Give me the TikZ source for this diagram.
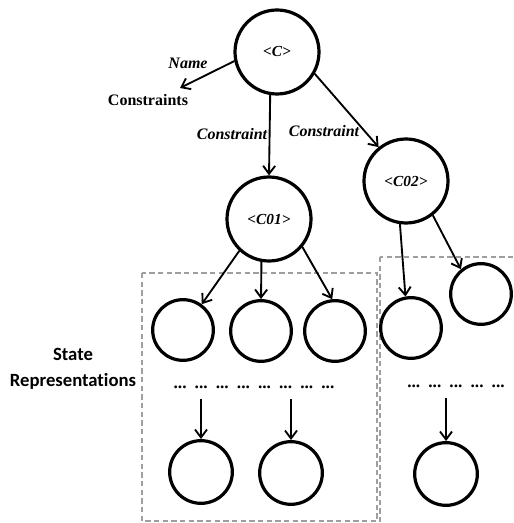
\documentclass[tikz,border=0pt]{standalone}
\usepackage{fontspec}
\setmainfont{Liberation Serif}
\newfontfamily\statefont[Ligatures=NoCommon]{Carlito}
\usepackage{tikz}
\usetikzlibrary{
    arrows.meta,
    positioning
}

\begin{document}
\begin{tikzpicture}[
    x=0.75pt,y=-0.75pt,
    bignode/.style={
        circle,
        draw,
        line width=2.4pt,
        minimum size=63pt,
        inner sep=0pt,
        font=\fontsize{11.5}{13}\selectfont\bfseries\itshape
    },
    statenode/.style={
        circle,
        draw,
        line width=2.4pt,
        minimum size=45.5pt,
        inner sep=0pt
    },
    link/.style={
        -{Straight Barb[length=6pt,width=9pt]},
        line width=1.4pt
    },
    edgelabel/.style={
        font=\fontsize{12}{14}\selectfont\bfseries\itshape
    },
    dotrow/.style={
        inner sep=0pt,
        font=\fontsize{13}{15}\selectfont\bfseries,
        execute at begin node={\spaceskip=5pt\relax}
    },
    groupbox/.style={
        draw=gray!75,
        dashed,
        dash pattern=on 4pt off 2.5pt,
        line width=1pt
    }
]
%
    \useasboundingbox (0,0) rectangle (513,523);
%
    \draw[groupbox] (142,273) rectangle (377,521);
    \draw[groupbox] (380,257) rectangle (540,545);
%
    \node[bignode] (c) at (277,52) {<C>};
    \node[bignode] (c01) at (269,219) {<C01>};
    \node[bignode] (c02) at (406,181) {<C02>};
%
    \node[statenode] (s1) at (183,330) {};
    \node[statenode] (s2) at (261,331) {};
    \node[statenode] (s3) at (335,331) {};
    \node[statenode] (r1) at (411,328) {};
    \node[statenode] (r2) at (481,294) {};
%
    \node[dotrow] (dotsl) at (254,387) {... ... ... ... ... ... ... ...};
    \node[dotrow] (dotsr) at (456,386) {... ... ... ... ...};
%
    \node[statenode,minimum size=47pt] (b1) at (201,472) {};
    \node[statenode,minimum size=47pt] (b2) at (291,473) {};
    \node[statenode,minimum size=47pt] (b3) at (446,474) {};
%
    \node[
        edgelabel
    ] (namelabel) at (188,63) {Name};
    \node[
        font=\fontsize{12}{14}\selectfont\bfseries
    ] (cons) at (148,100) {Constraints};
    \coordinate (nameend) at (180,88);
    \node[edgelabel] (lab1) at (232,134) {Constraint};
    \node[edgelabel] (lab2) at (324,131) {Constraint};
%
    \node[
        align=center,
        font=\statefont\fontsize{14}{20}\selectfont\bfseries
    ] (statelabel) at (73,369) {State\\Representations};
%
    \draw[link] (c.192) -- (nameend);
    \draw[link] (c.-99) -- (c01.north);
    \draw[link] (c.-30) -- (c02.129);
%
    \draw[link] (c01.-133) -- (s1.54);
    \draw[link] (c01.-100) -- (s2.north);
    \draw[link] (c01.-40) -- (s3.95);
    \draw[link] (c02.-98) -- (r1.100);
    \draw[link] (c02.-52) -- (r2.129);
%
    \draw[link] ([yshift=-8pt]dotsl.south -| b1.north) -- (b1.north);
    \draw[link] ([yshift=-8pt]dotsl.south -| b2.north) -- (b2.north);
    \draw[link] ([yshift=-8pt]dotsr.south -| b3.north) -- (b3.north);
%
\end{tikzpicture}
\end{document}
